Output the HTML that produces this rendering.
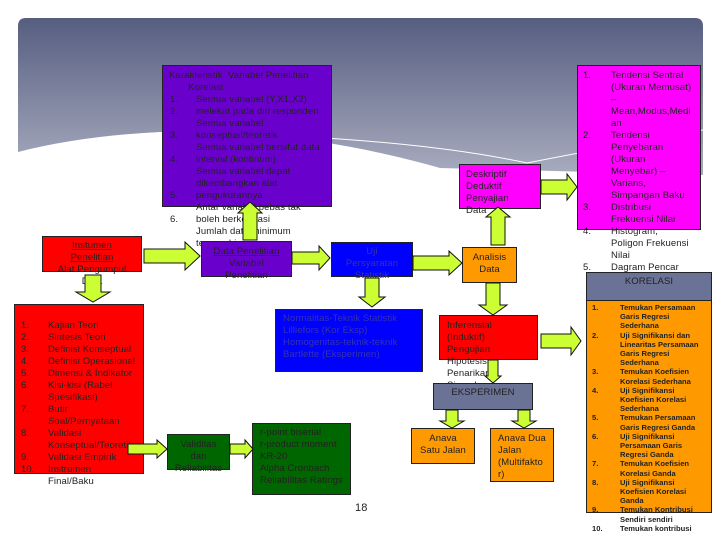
<!DOCTYPE html>
<html><head><meta charset="utf-8"><style>
body{margin:0;width:720px;height:540px;overflow:hidden;background:#fff;position:relative;font-family:"Liberation Sans",sans-serif;}
.b{position:absolute;box-sizing:border-box;border:1px solid #222;}
.t{position:absolute;font-size:9.5px;line-height:12px;white-space:pre;letter-spacing:0.1px;color:#222;}
.c{text-align:center;}
.o{position:absolute;font-size:7.6px;line-height:9.2px;white-space:pre;font-weight:bold;color:#222;letter-spacing:0}
svg{position:absolute;left:0;top:0}
</style></head><body>
<svg width="720" height="540">
<defs><linearGradient id="g" x1="0" y1="0" x2="0" y2="1"><stop offset="0" stop-color="#565e80"/><stop offset="1" stop-color="#a8acbf"/></linearGradient></defs>
<path d="M26,18 H695 Q703,18 703,26 V175 L440,168 Q300,128 160,132 Q80,136 18,152 V26 Q18,18 26,18 Z" fill="url(#g)"/>
<path d="M240,134 Q420,140 527,163 Q620,145 703,130" fill="none" stroke="#fff" stroke-width="1"/>
</svg>

<div class="b" style="left:162px;top:65px;width:170px;height:142px;background:#6a00cc"></div>
<div class="t" style="left:169px;top:70px">Karakteristik  Variabel Penelitian
       Korelasi</div>
<div class="t" style="left:170px;top:94px">1.
2.

3.

4.


5.

6.</div>
<div class="t" style="left:196px;top:94px">Semua variabel (Y,X1,X2)
melekat pada diri responden
Semua variabel
konseptual/teoretik
Semua variabel bersifat data
interval (kontinum)
Semua variabel dapat
dikembangkan alat
pengukurannya
Antar variabel bebas tak
boleh berkorelasi
Jumlah data minimum
terpenuhi</div>

<div class="b" style="left:577px;top:65px;width:124px;height:165px;background:#ff00ff"></div>
<div class="t" style="left:583px;top:70px">1.




2.





3.

4.


5.</div>
<div class="t" style="left:611px;top:70px">Tendensi Sentral
(Ukuran Memusat)
–
Mean,Modus,Medi
an
Tendensi
Penyebaran
(Ukuran
Menyebar) –
Varians,
Simpangan Baku
Distribusi
Frekuensi Nilai
Histogram,
Poligon Frekuensi
Nilai
Dagram Pencar</div>

<div class="b" style="left:42px;top:236px;width:100px;height:36px;background:#ff0000"></div>
<div class="t c" style="left:42px;top:240px;width:100px"><u>Instumen</u>
<u>Penelitian</u>
Alat Pengumpul
Data</div>

<div class="b" style="left:201px;top:241px;width:91px;height:36px;background:#6a00cc"></div>
<div class="t c" style="left:201px;top:246px;width:91px"><u>Data Penelitian</u>
Variabel
Penelitian</div>

<div class="b" style="left:331px;top:242px;width:82px;height:35px;background:#0000ff"></div>
<div class="t c" style="left:331px;top:246px;width:82px;color:#3333aa">Uji
Persyaratan
Statistik</div>

<div class="b" style="left:462px;top:247px;width:55px;height:36px;background:#ff9900"></div>
<div class="t c" style="left:462px;top:252px;width:55px">Analisis
Data</div>

<div class="b" style="left:459px;top:164px;width:82px;height:45px;background:#ff00ff"></div>
<div class="t" style="left:466px;top:169px">Deskriptif
Deduktif
Penyajian
Data</div>

<div class="b" style="left:586px;top:272px;width:126px;height:29px;background:#6a7296"></div>
<div class="t c" style="left:586px;top:276px;width:126px">KORELASI</div>
<div class="b" style="left:586px;top:300px;width:126px;height:213px;background:#ff9900"></div>
<div class="o" style="left:592px;top:303px">1.


2.



3.

4.


5.

6.


7.

8.


9.

10.</div>
<div class="o" style="left:620px;top:303px">Temukan Persamaan
Garis Regresi
Sederhana
Uji Signifikansi dan
Linearitas Persamaan
Garis Regresi
Sederhana
Temukan Koefisien
Korelasi Sederhana
Uji Signifikansi
Koefisien Korelasi
Sederhana
Temukan Persamaan
Garis Regresi Ganda
Uji Signifikansi
Persamaan Garis
Regresi Ganda
Temukan Koefisien
Korelasi Ganda
Uji Signifikansi
Koefisien Korelasi
Ganda
Temukan Kontribusi
Sendiri sendiri
Temukan kontribusi</div>

<div class="b" style="left:275px;top:309px;width:148px;height:63px;background:#0000ff"></div>
<div class="t" style="left:283px;top:313px;color:#3333aa">Normalitas-Teknik Statistik
Lilliefors (Kor Eksp)
Homogenitas-teknik-teknik
Bartlette (Eksperimen)</div>

<div class="b" style="left:439px;top:315px;width:99px;height:45px;background:#ff0000"></div>
<div class="t" style="left:447px;top:320px">Inferensial
(Induktif)
Pengujian
Hipotesis
Penarikan
Simpulan</div>

<div class="b" style="left:433px;top:383px;width:100px;height:27px;background:#6a7296"></div>
<div class="t c" style="left:433px;top:387px;width:100px">EKSPERIMEN</div>
<div class="b" style="left:411px;top:428px;width:64px;height:36px;background:#ff9900"></div>
<div class="t c" style="left:411px;top:433px;width:64px">Anava
Satu Jalan</div>
<div class="b" style="left:490px;top:428px;width:64px;height:54px;background:#ff9900"></div>
<div class="t" style="left:498px;top:433px">Anava Dua
Jalan
(Multifakto
r)</div>

<div class="b" style="left:14px;top:304px;width:130px;height:170px;background:#ff0000"></div>
<div class="t" style="left:21px;top:320px">1.
2.
3.
4.
5.
6.

7.

8.

9.
10.</div>
<div class="t" style="left:48px;top:320px">Kajian Teori
Sintesis Teori
Definisi Konseptual
Definisi Operasional
Dimensi &amp; Indikator
Kisi-kisi (Rabel
Spesifikasi)
Butir
Soal/Pernyataan
Validasi
Konseptual/Teoretik
Validasi Empirik
Instrumen
Final/Baku</div>

<div class="b" style="left:167px;top:434px;width:63px;height:36px;background:#006600"></div>
<div class="t c" style="left:167px;top:439px;width:63px">Validitas
dan
Reliabilitas</div>
<div class="b" style="left:252px;top:423px;width:99px;height:72px;background:#006600"></div>
<div class="t" style="left:260px;top:427px">r-point biserial
r-product moment
KR-20
Alpha Cronbach
Reliabilitas Ratings</div>
<div class="t" style="left:355px;top:502px;font-size:11px">18</div>

<svg width="720" height="540" id="arr"></svg>
<script>
var s=document.getElementById('arr'),NS='http://www.w3.org/2000/svg';
function P(pts){var p=document.createElementNS(NS,'polygon');p.setAttribute('points',pts.map(function(a){return a.join(',')}).join(' '));p.setAttribute('fill','#ccff33');p.setAttribute('stroke','#111');p.setAttribute('stroke-width','1');s.appendChild(p);}
function R(x1,x2,c,h,H,L){P([[x1,c-h],[x2-L,c-h],[x2-L,c-H],[x2,c],[x2-L,c+H],[x2-L,c+h],[x1,c+h]]);}
function U(c,y1,y2,h,H,L){P([[c-h,y1],[c-h,y2+L],[c-H,y2+L],[c,y2],[c+H,y2+L],[c+h,y2+L],[c+h,y1]]);}
function D(c,y1,y2,h,H,L){P([[c-h,y1],[c-h,y2-L],[c-H,y2-L],[c,y2],[c+H,y2-L],[c+h,y2-L],[c+h,y1]]);}
R(144,200,256,7,14,15);
U(250,240,202,7,12,11);
R(292,330,258,6,12,11);
R(413,462,263,7,12,13);
U(498,245,207,7,12,10);
R(541,577,187,7,13,10);
D(493,283,315,7,14,10);
R(541,581,341,7,14,10);
D(493,360,383,5,8,7);
D(452,410,428,6,12,7);
D(524,410,428,6,12,7);
D(372,278,307,7,13,10);
D(93,275,302,8,17,10);
R(128,167,449,5,9,10);
R(230,253,449,5,9,8);
</script>
</body></html>
